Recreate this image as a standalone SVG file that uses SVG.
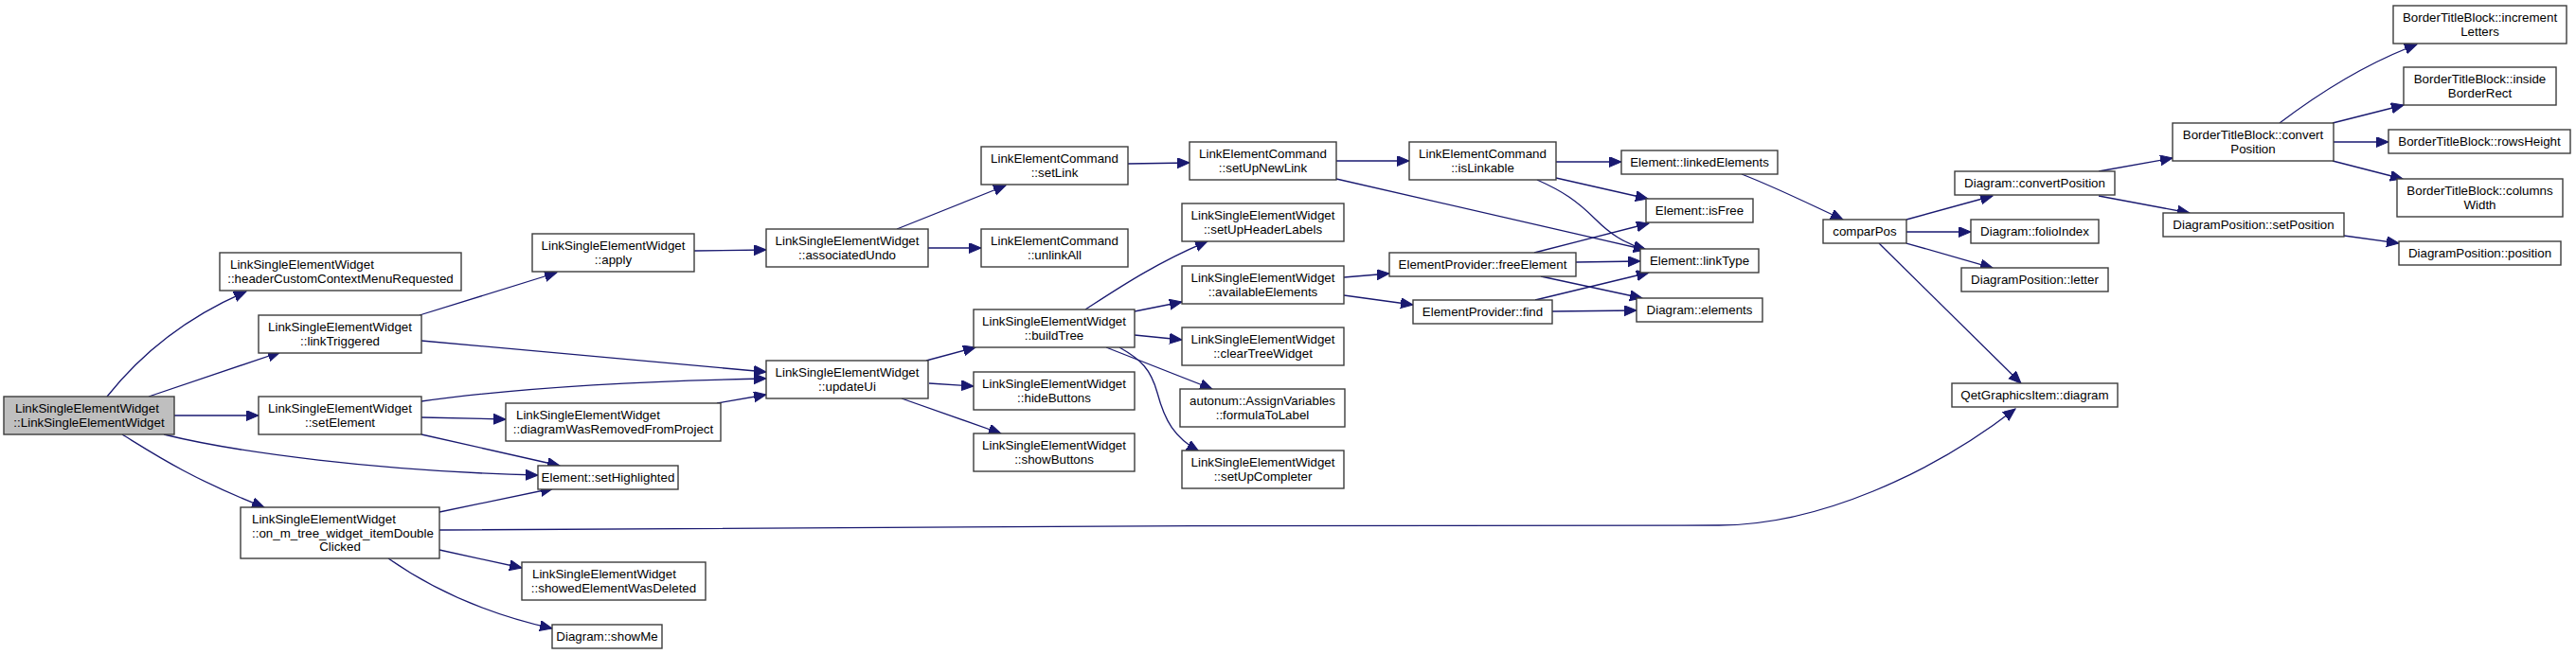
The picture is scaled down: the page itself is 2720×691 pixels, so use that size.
<svg xmlns="http://www.w3.org/2000/svg" width="2720" height="691" viewBox="0 0 2720 691">
<style>
.n rect{fill:#fff;stroke:#3c3c3c;stroke-width:1.4}
.n text{font-family:"Liberation Sans",Arial,Helvetica,sans-serif;font-size:13.33px;fill:#000;text-anchor:middle}
.n text.l{text-anchor:start}
.n.root rect{fill:#bfbfbf}
.e path{fill:none;stroke:#191970;stroke-width:1.3}
</style>
<defs>
<marker id="ah" markerUnits="userSpaceOnUse" markerWidth="14" markerHeight="12" refX="13" refY="5.5" orient="auto">
<path d="M0,0 L13,5.5 L0,11 z" fill="#191970" stroke="#191970" stroke-width="1"/>
</marker>
</defs>
<rect width="2720" height="691" fill="#fff"/>
<g class="e" marker-end="url(#ah)">
<path marker-end="url(#ah)" d="M113,419 C140,385 185,340 260,308"/>
<path marker-end="url(#ah)" d="M157,419 L296,372"/>
<path marker-end="url(#ah)" d="M184,439 L273,439"/>
<path marker-end="url(#ah)" d="M173,459 C250,478 400,498 568,502"/>
<path marker-end="url(#ah)" d="M129,459 C160,478 200,505 279,536"/>
<path marker-end="url(#ah)" d="M443,333 L588,288"/>
<path marker-end="url(#ah)" d="M445,360 L809,393"/>
<path marker-end="url(#ah)" d="M445,424 C530,412 650,403 809,400"/>
<path marker-end="url(#ah)" d="M445,441 L534,443"/>
<path marker-end="url(#ah)" d="M445,459 L591,492"/>
<path marker-end="url(#ah)" d="M757,426 L809,417"/>
<path marker-end="url(#ah)" d="M464,541 L584,516"/>
<path marker-end="url(#ah)" d="M464,560 C700,556 1400,555 1815,555 C1920,555 2040,500 2128,432"/>
<path marker-end="url(#ah)" d="M464,581 L551,600"/>
<path marker-end="url(#ah)" d="M410,590 C460,625 520,650 583,664"/>
<path marker-end="url(#ah)" d="M733,265 L809,264"/>
<path marker-end="url(#ah)" d="M947,242 L1062,196"/>
<path marker-end="url(#ah)" d="M980,262 L1036,262"/>
<path marker-end="url(#ah)" d="M978,381 L1030,367"/>
<path marker-end="url(#ah)" d="M981,405 L1028,408"/>
<path marker-end="url(#ah)" d="M952,421 L1057,458"/>
<path marker-end="url(#ah)" d="M1191,173 L1256,172"/>
<path marker-end="url(#ah)" d="M1411,170 L1488,170"/>
<path marker-end="url(#ah)" d="M1411,189 L1738,264"/>
<path marker-end="url(#ah)" d="M1643,171 L1712,171"/>
<path marker-end="url(#ah)" d="M1643,188 L1740,210"/>
<path marker-end="url(#ah)" d="M1623,190 C1650,202 1665,212 1685,232 C1700,247 1715,257 1738,264"/>
<path marker-end="url(#ah)" d="M1146,327 C1180,305 1220,278 1275,255"/>
<path marker-end="url(#ah)" d="M1198,329 L1248,319"/>
<path marker-end="url(#ah)" d="M1198,354 L1248,359"/>
<path marker-end="url(#ah)" d="M1168,367 L1280,411"/>
<path marker-end="url(#ah)" d="M1182,367 C1205,380 1215,390 1222,415 C1230,445 1240,462 1266,477"/>
<path marker-end="url(#ah)" d="M1419,293 L1467,289"/>
<path marker-end="url(#ah)" d="M1419,312 L1492,322"/>
<path marker-end="url(#ah)" d="M1620,267 L1741,236"/>
<path marker-end="url(#ah)" d="M1664,277 L1732,276"/>
<path marker-end="url(#ah)" d="M1627,292 L1734,315"/>
<path marker-end="url(#ah)" d="M1621,317 L1741,288"/>
<path marker-end="url(#ah)" d="M1639,329 L1728,328"/>
<path marker-end="url(#ah)" d="M1839,184 C1875,198 1905,213 1946,232"/>
<path marker-end="url(#ah)" d="M2013,232 L2104,207"/>
<path marker-end="url(#ah)" d="M2013,245 L2081,245"/>
<path marker-end="url(#ah)" d="M2013,257 L2104,283"/>
<path marker-end="url(#ah)" d="M1984,257 L2134,405"/>
<path marker-end="url(#ah)" d="M2216,181 L2294,167"/>
<path marker-end="url(#ah)" d="M2216,207 L2312,225"/>
<path marker-end="url(#ah)" d="M2407,130 C2440,105 2490,70 2552,47"/>
<path marker-end="url(#ah)" d="M2463,130 L2538,111"/>
<path marker-end="url(#ah)" d="M2464,150 L2522,150"/>
<path marker-end="url(#ah)" d="M2463,170 L2537,189"/>
<path marker-end="url(#ah)" d="M2475,249 L2533,257"/>
</g>
<g id="n0" class="n root"><rect x="4" y="419" width="180" height="40"/><text class="l" x="16" y="435.5">LinkSingleElementWidget</text><text x="94" y="450.5">::LinkSingleElementWidget</text></g>
<g id="n1" class="n"><rect x="232" y="267" width="255" height="40"/><text class="l" x="243" y="283.5">LinkSingleElementWidget</text><text x="359.5" y="298.5">::headerCustomContextMenuRequested</text></g>
<g id="n2" class="n"><rect x="273" y="333" width="172" height="40"/><text x="359" y="349.5">LinkSingleElementWidget</text><text x="359" y="364.5">::linkTriggered</text></g>
<g id="n3" class="n"><rect x="273" y="419" width="172" height="40"/><text x="359" y="435.5">LinkSingleElementWidget</text><text x="359" y="450.5">::setElement</text></g>
<g id="n4" class="n"><rect x="254" y="536" width="210" height="54"/><text class="l" x="266" y="552.5">LinkSingleElementWidget</text><text class="l" x="266" y="567.5">::on_m_tree_widget_itemDouble</text><text x="359" y="582">Clicked</text></g>
<g id="n5" class="n"><rect x="568" y="492" width="148" height="25"/><text x="642" y="509">Element::setHighlighted</text></g>
<g id="n6" class="n"><rect x="562" y="247" width="171" height="40"/><text x="647.5" y="263.5">LinkSingleElementWidget</text><text x="647.5" y="278.5">::apply</text></g>
<g id="n7" class="n"><rect x="809" y="381" width="171" height="40"/><text x="894.5" y="397.5">LinkSingleElementWidget</text><text x="894.5" y="412.5">::updateUi</text></g>
<g id="n8" class="n"><rect x="534" y="426" width="227" height="40"/><text class="l" x="545" y="442.5">LinkSingleElementWidget</text><text x="647.5" y="457.5">::diagramWasRemovedFromProject</text></g>
<g id="n9" class="n"><rect x="551" y="594" width="194" height="40"/><text class="l" x="562" y="610.5">LinkSingleElementWidget</text><text x="648" y="625.5">::showedElementWasDeleted</text></g>
<g id="n10" class="n"><rect x="583" y="660" width="116" height="25"/><text x="641" y="677">Diagram::showMe</text></g>
<g id="n11" class="n"><rect x="809" y="242" width="171" height="40"/><text x="894.5" y="258.5">LinkSingleElementWidget</text><text x="894.5" y="273.5">::associatedUndo</text></g>
<g id="n12" class="n"><rect x="1036" y="155" width="155" height="40"/><text x="1113.5" y="171.5">LinkElementCommand</text><text x="1113.5" y="186.5">::setLink</text></g>
<g id="n13" class="n"><rect x="1036" y="242" width="155" height="40"/><text x="1113.5" y="258.5">LinkElementCommand</text><text x="1113.5" y="273.5">::unlinkAll</text></g>
<g id="n14" class="n"><rect x="1028" y="327" width="170" height="40"/><text x="1113" y="343.5">LinkSingleElementWidget</text><text x="1113" y="358.5">::buildTree</text></g>
<g id="n15" class="n"><rect x="1028" y="393" width="170" height="40"/><text x="1113" y="409.5">LinkSingleElementWidget</text><text x="1113" y="424.5">::hideButtons</text></g>
<g id="n16" class="n"><rect x="1028" y="458" width="170" height="40"/><text x="1113" y="474.5">LinkSingleElementWidget</text><text x="1113" y="489.5">::showButtons</text></g>
<g id="n17" class="n"><rect x="1256" y="150" width="155" height="40"/><text x="1333.5" y="166.5">LinkElementCommand</text><text x="1333.5" y="181.5">::setUpNewLink</text></g>
<g id="n18" class="n"><rect x="1248" y="215" width="171" height="40"/><text x="1333.5" y="231.5">LinkSingleElementWidget</text><text x="1333.5" y="246.5">::setUpHeaderLabels</text></g>
<g id="n19" class="n"><rect x="1248" y="281" width="171" height="40"/><text x="1333.5" y="297.5">LinkSingleElementWidget</text><text x="1333.5" y="312.5">::availableElements</text></g>
<g id="n20" class="n"><rect x="1248" y="346" width="171" height="40"/><text x="1333.5" y="362.5">LinkSingleElementWidget</text><text x="1333.5" y="377.5">::clearTreeWidget</text></g>
<g id="n21" class="n"><rect x="1246" y="411" width="174" height="40"/><text x="1333" y="427.5">autonum::AssignVariables</text><text x="1333" y="442.5">::formulaToLabel</text></g>
<g id="n22" class="n"><rect x="1248" y="476" width="171" height="40"/><text x="1333.5" y="492.5">LinkSingleElementWidget</text><text x="1333.5" y="507.5">::setUpCompleter</text></g>
<g id="n23" class="n"><rect x="1488" y="150" width="155" height="40"/><text x="1565.5" y="166.5">LinkElementCommand</text><text x="1565.5" y="181.5">::isLinkable</text></g>
<g id="n24" class="n"><rect x="1467" y="267" width="197" height="25"/><text x="1565.5" y="284">ElementProvider::freeElement</text></g>
<g id="n25" class="n"><rect x="1492" y="317" width="147" height="25"/><text x="1565.5" y="334">ElementProvider::find</text></g>
<g id="n26" class="n"><rect x="1712" y="159" width="165" height="25"/><text x="1794.5" y="176">Element::linkedElements</text></g>
<g id="n27" class="n"><rect x="1738" y="210" width="113" height="25"/><text x="1794.5" y="227">Element::isFree</text></g>
<g id="n28" class="n"><rect x="1732" y="263" width="125" height="25"/><text x="1794.5" y="280">Element::linkType</text></g>
<g id="n29" class="n"><rect x="1728" y="315" width="133" height="25"/><text x="1794.5" y="332">Diagram::elements</text></g>
<g id="n30" class="n"><rect x="1925" y="232" width="88" height="25"/><text x="1969" y="249">comparPos</text></g>
<g id="n31" class="n"><rect x="2064" y="181" width="169" height="25"/><text x="2148.5" y="198">Diagram::convertPosition</text></g>
<g id="n32" class="n"><rect x="2081" y="232" width="135" height="25"/><text x="2148.5" y="249">Diagram::folioIndex</text></g>
<g id="n33" class="n"><rect x="2071" y="283" width="155" height="25"/><text x="2148.5" y="300">DiagramPosition::letter</text></g>
<g id="n34" class="n"><rect x="2061" y="405" width="175" height="25"/><text x="2148.5" y="422">QetGraphicsItem::diagram</text></g>
<g id="n35" class="n"><rect x="2294" y="130" width="170" height="40"/><text x="2379" y="146.5">BorderTitleBlock::convert</text><text x="2379" y="161.5">Position</text></g>
<g id="n36" class="n"><rect x="2284" y="225" width="191" height="25"/><text x="2379.5" y="242">DiagramPosition::setPosition</text></g>
<g id="n37" class="n"><rect x="2527" y="6" width="183" height="40"/><text x="2618.5" y="22.5">BorderTitleBlock::increment</text><text x="2618.5" y="37.5">Letters</text></g>
<g id="n38" class="n"><rect x="2538" y="71" width="161" height="40"/><text x="2618.5" y="87.5">BorderTitleBlock::inside</text><text x="2618.5" y="102.5">BorderRect</text></g>
<g id="n39" class="n"><rect x="2522" y="137" width="192" height="25"/><text x="2618" y="154">BorderTitleBlock::rowsHeight</text></g>
<g id="n40" class="n"><rect x="2531" y="189" width="175" height="40"/><text x="2618.5" y="205.5">BorderTitleBlock::columns</text><text x="2618.5" y="220.5">Width</text></g>
<g id="n41" class="n"><rect x="2533" y="255" width="171" height="25"/><text x="2618.5" y="272">DiagramPosition::position</text></g>
</svg>
